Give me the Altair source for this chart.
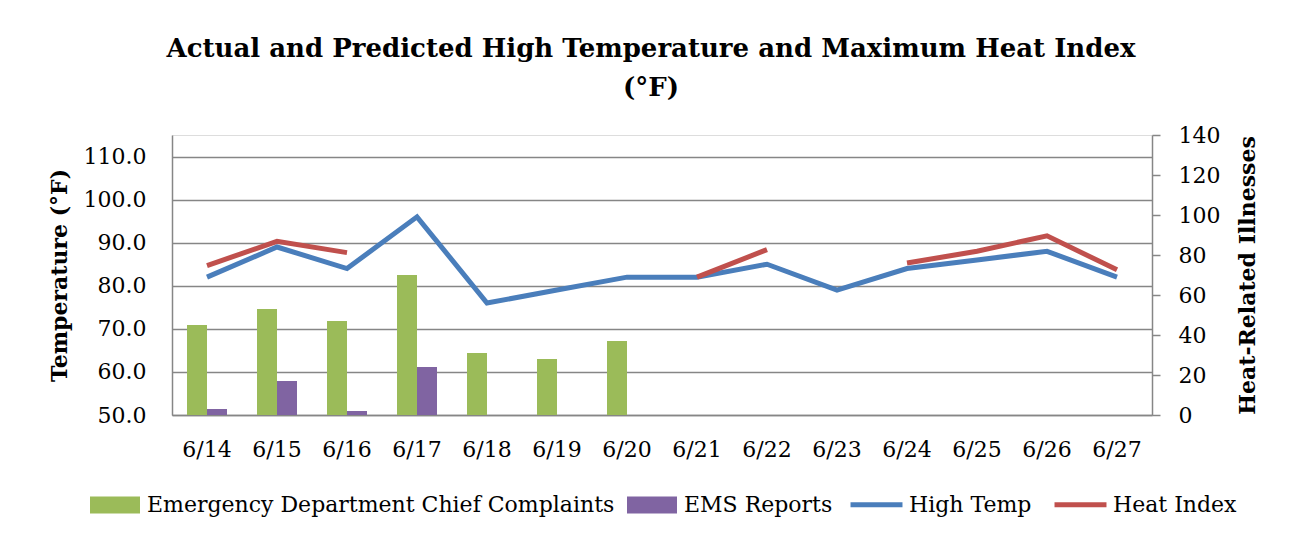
import altair as alt
import pandas as pd

dates = ["6/14", "6/15", "6/16", "6/17", "6/18", "6/19", "6/20",
         "6/21", "6/22", "6/23", "6/24", "6/25", "6/26", "6/27"]
high_temp = [82, 89, 84, 96, 76, 79, 82, 82, 85, 79, 84, 86, 88, 82]
heat_index = [84.7, 90.3, 87.7, None, None, None, None, 82, 88.4, None, 85.3, 88, 91.6, 83.7]
ed_complaints = [45, 53, 47, 70, 31, 28, 37, None, None, None, None, None, None, None]
ems_reports = [3, 17, 2, 24, None, None, None, None, None, None, None, None, None, None]

bar_series = ["Emergency Department Chief Complaints", "EMS Reports"]
line_series = ["High Temp", "Heat Index"]
bar_colors = ["#9BBB59", "#8064A2"]
line_colors = ["#4A7EBB", "#C0504D"]

FONT = "DejaVu Serif"

bars_df = pd.DataFrame({
    "date": dates * 2,
    "series": [bar_series[0]] * len(dates) + [bar_series[1]] * len(dates),
    "value": ed_complaints + ems_reports,
})
lines_df = pd.DataFrame({
    "date": dates * 2,
    "series": [line_series[0]] * len(dates) + [line_series[1]] * len(dates),
    "temp": high_temp + heat_index,
})

xscale = alt.Scale(domain=dates, paddingInner=0.4286, paddingOuter=0.2143)
xaxis = alt.Axis(title=None, labelFont=FONT, labelFontSize=22, labelColor="#000000",
                 labelPadding=24, ticks=False, domainColor="#868686", domainWidth=1.5,
                 labelAngle=0, grid=False)

bars = alt.Chart(bars_df).mark_bar().encode(
    x=alt.X("date:N", scale=xscale, axis=xaxis, sort=dates),
    xOffset=alt.XOffset("series:N", sort=bar_series, scale=alt.Scale(domain=bar_series, paddingInner=0, paddingOuter=0)),
    y=alt.Y("value:Q", scale=alt.Scale(domain=[0, 140], nice=False, zero=True),
            axis=alt.Axis(orient="right", values=list(range(0, 141, 20)), grid=False,
                          title="Heat-Related Illnesses", titleFont=FONT, titleFontSize=22,
                          titleFontWeight="bold", titleAngle=270, titlePadding=40,
                          titleColor="#000000",
                          labelFont=FONT, labelFontSize=22, labelColor="#000000",
                          tickSize=8, tickColor="#868686", tickWidth=1.5, labelPadding=18,
                          domainColor="#868686", domainWidth=1.5)),
    fill=alt.Fill("series:N", scale=alt.Scale(domain=bar_series, range=bar_colors),
                  legend=alt.Legend(orient="none", legendX=-82, legendY=345, direction="horizontal",
                                    title=None, symbolType="M-1,-0.34L1,-0.34L1,0.34L-1,0.34Z",
                                    symbolSize=2500, symbolStrokeWidth=0, labelFont=FONT,
                                    labelFontSize=22, labelColor="#000000", labelOffset=7,
                                    columnPadding=12, labelLimit=600)),
)

lines = alt.Chart(lines_df).mark_line(strokeWidth=5, invalid="break-paths-show-domains").encode(
    x=alt.X("date:N", scale=xscale, axis=xaxis, sort=dates),
    y=alt.Y("temp:Q", scale=alt.Scale(domain=[50, 115], nice=False, zero=False),
            axis=alt.Axis(orient="left", values=list(range(50, 111, 10)), format=".1f",
                          grid=True, gridColor="#868686", gridWidth=1.5,
                          title="Temperature (°F)", titleFont=FONT, titleFontSize=22,
                          titleFontWeight="bold", titlePadding=12, titleColor="#000000",
                          labelFont=FONT, labelFontSize=22, labelColor="#000000",
                          ticks=False, labelPadding=26,
                          domainColor="#868686", domainWidth=1.5)),
    stroke=alt.Stroke("series:N", scale=alt.Scale(domain=line_series, range=line_colors),
                      legend=alt.Legend(orient="none", legendX=676, legendY=341, direction="horizontal",
                                        title=None, symbolType="stroke", symbolSize=2700,
                                        symbolStrokeWidth=5, labelFont=FONT, labelFontSize=22,
                                        labelColor="#000000", labelOffset=4, columnPadding=12,
                                        labelLimit=300)),
    detail="series:N",
)

chart = alt.layer(bars, lines).resolve_scale(
    y="independent", fill="independent", stroke="independent"
).properties(
    width=980,
    height=280,
    autosize=alt.AutoSizeParams(type="none"),
    padding={"left": 164, "top": 127, "right": 131, "bottom": 114},
    title=alt.TitleParams(
        text=["Actual and Predicted High Temperature and Maximum Heat Index", "(°F)"],
        font=FONT, fontSize=26, fontWeight="bold", color="#000000",
        anchor="middle", lineHeight=39, offset=23, dx=-11,
    ),
).configure_view(stroke=None).configure(background="#ffffff")

chart.save("out.html", embed_options={"renderer": "svg", "actions": False})
